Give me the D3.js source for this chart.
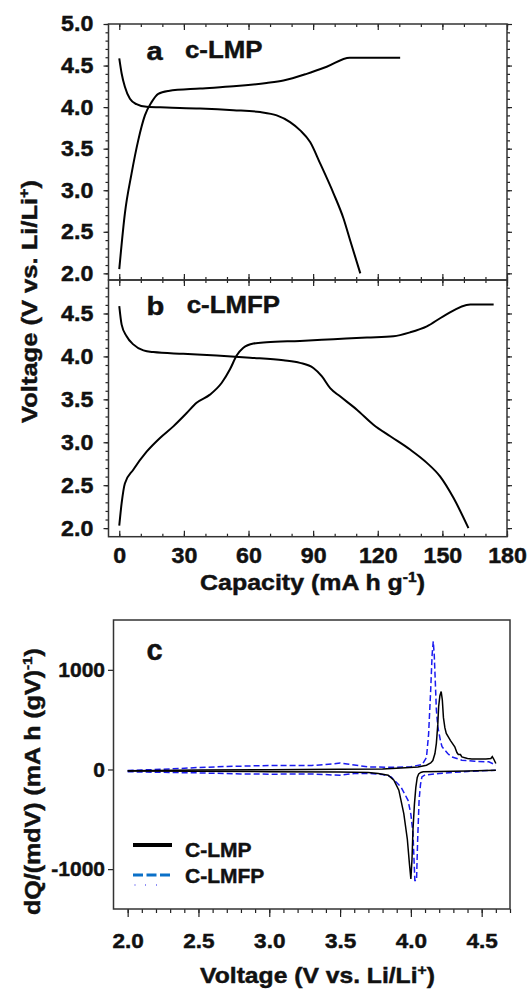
<!DOCTYPE html>
<meta charset="utf-8">
<style>
  body { margin: 0; background: #fff; }
  svg { display: block; }
  text { font-family: "Liberation Sans", Arial, sans-serif; font-weight: bold; fill: #111; stroke: #111; stroke-width: 0.45px; }
</style>
<svg width="528" height="990"></svg>
<script src="https://cdn.jsdelivr.net/npm/d3@7"></script>
<script>

// ---- panel a : c-LMP charge / discharge ----
var aChargeCap = [0, 2.6, 5.7, 8.8, 11.9, 15.0, 18.1, 22.8, 37.5, 53, 68.4, 76.2, 87, 96.3, 107, 130.4];
var aChargeV   = [2.05, 2.72, 3.20, 3.60, 3.90, 4.06, 4.16, 4.195, 4.224, 4.25, 4.29, 4.32, 4.40, 4.485, 4.594, 4.594];
var aDischCap = [0, 1.1, 2.6, 4.95, 8, 12.7, 22, 37.5, 53, 65.4, 73.1, 79.3, 84, 88.6, 93.3, 99.5, 104.1, 107.2, 111.9];
var aDischV   = [4.586, 4.405, 4.244, 4.10, 4.035, 4.003, 3.995, 3.983, 3.963, 3.94, 3.90, 3.82, 3.72, 3.58, 3.32, 2.96, 2.66, 2.395, 2.0];

// ---- panel b : c-LMFP ----
var bChargeCap = [0, 1.1, 2.6, 6.5, 12.7, 18.9, 25.1, 31.3, 35.9, 42.1, 47.5, 51.4, 54.5, 57.6, 62.3, 68.4, 83.9, 99.5, 115, 127.3, 135, 142.8, 150.6, 163, 173.8];
var bChargeV   = [2.03, 2.29, 2.52, 2.68, 2.89, 3.05, 3.185, 3.34, 3.46, 3.555, 3.69, 3.85, 4.01, 4.10, 4.15, 4.165, 4.18, 4.20, 4.22, 4.235, 4.28, 4.35, 4.47, 4.605, 4.605];
var bDischCap = [0, 1.1, 3.4, 6.5, 11.2, 15.8, 29.7, 45.2, 60.7, 76.2, 83.9, 90.1, 94, 97.9, 102.5, 110.3, 118, 125.8, 135, 142.8, 149, 155.2, 162.1];
var bDischV   = [4.585, 4.37, 4.235, 4.14, 4.07, 4.05, 4.03, 4.01, 3.985, 3.955, 3.925, 3.865, 3.77, 3.63, 3.535, 3.38, 3.205, 3.07, 2.915, 2.76, 2.60, 2.35, 2.0];

// ---- panel c : dQ/dV ----
var lmpUpV  = [2.0, 2.2, 2.5, 3.0, 3.5, 3.8, 3.93, 4.05, 4.11, 4.14, 4.155, 4.17, 4.18, 4.19, 4.196, 4.205, 4.214, 4.222, 4.23, 4.24, 4.25, 4.28, 4.31, 4.325, 4.335, 4.35, 4.36, 4.40, 4.43, 4.53, 4.565, 4.575, 4.585, 4.6];
var lmpUpQ  = [-12, -10, -6, -2, 2, 6, 16, 25, 43, 65, 90, 160, 262, 450, 630, 740, 782, 700, 520, 420, 362, 290, 228, 170, 150, 150, 126, 110, 106, 106, 110, 130, 105, 60];
var lmpDnV  = [2.0, 2.5, 3.0, 3.5, 3.7, 3.77, 3.84, 3.88, 3.915, 3.95, 3.975, 3.99, 4.0, 4.008, 4.015, 4.025, 4.035, 4.045, 4.055, 4.07, 4.087, 4.2, 4.4, 4.6];
var lmpDnQ  = [-15, -18, -22, -25, -30, -40, -57, -107, -208, -443, -700, -950, -1098, -900, -600, -350, -180, -80, -45, -30, -23, -20, -14, -7];
var lmfpUpV = [2.0, 2.1, 2.3, 2.5, 2.7, 3.0, 3.3, 3.45, 3.5, 3.55, 3.7, 3.9, 4.0, 4.08, 4.11, 4.125, 4.14, 4.15, 4.158, 4.165, 4.172, 4.18, 4.19, 4.21, 4.22, 4.26, 4.29, 4.36, 4.45, 4.55, 4.6];
var lmfpUpQ = [-10, -5, 5, 20, 30, 40, 40, 55, 65, 55, 25, 22, 28, 50, 120, 350, 800, 1150, 1285, 1150, 900, 600, 430, 280, 228, 160, 126, 93, 82, 77, 45];
var lmfpDnV = [2.0, 2.3, 2.5, 2.8, 3.0, 3.3, 3.45, 3.5, 3.6, 3.7, 3.8, 3.86, 3.93, 3.98, 4.0, 4.015, 4.028, 4.04, 4.048, 4.058, 4.068, 4.078, 4.1, 4.2, 4.4, 4.6];
var lmfpDnQ = [-23, -30, -34, -45, -47, -45, -55, -57, -40, -40, -50, -74, -175, -309, -450, -644, -1114, -1114, -700, -309, -150, -74, -55, -40, -20, -7];

var legendNames = ["C-LMP", "C-LMFP"];

var svg = d3.select("svg");

// scales
var x = d3.scaleLinear().domain([-5, 180]).range([108.5, 507]);
var yA = d3.scaleLinear().domain([1.92, 5.0]).range([280, 24]);
var yB = d3.scaleLinear().domain([1.9, 4.89]).range([536.7, 280]);
var xC = d3.scaleLinear().domain([1.9, 4.7]).range([113.5, 510]);
var yC = d3.scaleLinear().domain([-1400, 1500]).range([909, 620]);

function noDomain(g) { g.select(".domain").remove(); g.selectAll("line").attr("stroke", "#222").attr("stroke-width", 1.2); }
function noText(g) { g.selectAll("text").remove(); }
function tickText(g, size, sx) {
  g.selectAll("text").attr("font-size", size).attr("font-weight", "bold")
    .attr("font-family", "Liberation Sans, Arial, sans-serif").attr("fill", "#111")
    .attr("transform", "scale(" + sx + ",1)");
}
// place a label, stretch it along its own direction to a target length
function label(tr, size, str, len) {
  var t = svg.append("text").attr("font-size", size).html(str);
  if (len) {
    t.attr("text-anchor", "middle");
    var n = t.node().getComputedTextLength();
    t.attr("transform", tr + " scale(" + (len / n) + ",1)");
  } else {
    t.attr("transform", tr);
  }
  return t;
}

var xMajor = d3.range(0, 181, 30), xMinor = d3.range(0, 181, 10);

function frameAB(y, yMaj, yMin, topY, botY, labels) {
  svg.append("g").attr("transform", "translate(0," + botY + ")")
    .call(d3.axisBottom(x).tickValues(xMinor).tickSize(-3)).call(noDomain).call(noText);
  var gx = svg.append("g").attr("transform", "translate(0," + botY + ")")
    .call(d3.axisBottom(x).tickValues(xMajor).tickSize(-6).tickPadding(11.5)).call(noDomain);
  if (labels) gx.call(tickText, 21.5, 1.08);
  else gx.call(noText);
  svg.append("g").attr("transform", "translate(0," + topY + ")")
    .call(d3.axisTop(x).tickValues(xMinor).tickSize(-3)).call(noDomain).call(noText);
  svg.append("g").attr("transform", "translate(0," + topY + ")")
    .call(d3.axisTop(x).tickValues(xMajor).tickSize(-6)).call(noDomain).call(noText);
  svg.append("g").attr("transform", "translate(108.5,0)")
    .call(d3.axisLeft(y).tickValues(yMin).tickSize(3)).call(noDomain).call(noText);
  svg.append("g").attr("transform", "translate(108.5,0)")
    .call(d3.axisLeft(y).tickValues(yMaj).tickSize(5).tickPadding(9).tickFormat(d3.format(".1f")))
    .call(noDomain).call(tickText, 21.5, 1.08);
  svg.append("g").attr("transform", "translate(507,0)")
    .call(d3.axisRight(y).tickValues(yMin).tickSize(3)).call(noDomain).call(noText);
  svg.append("g").attr("transform", "translate(507,0)")
    .call(d3.axisRight(y).tickValues(yMaj).tickSize(5)).call(noDomain).call(noText);
  svg.append("rect").attr("x", 108.5).attr("y", topY).attr("width", 507 - 108.5).attr("height", botY - topY)
    .attr("fill", "none").attr("stroke", "#333").attr("stroke-width", 1.5);
}

frameAB(yA, d3.range(2.0, 5.01, 0.5), d3.range(2.0, 5.01, 0.1), 24, 280, false);
frameAB(yB, d3.range(2.0, 4.51, 0.5), d3.range(2.0, 4.81, 0.1), 280, 536.7, true);

function curve(xs, ys, sx, sy) {
  return d3.line().x(function(d, i) { return sx(xs[i]); }).y(function(d, i) { return sy(ys[i]); })
    .curve(d3.curveMonotoneX)(xs);
}
[[aChargeCap, aChargeV, yA], [aDischCap, aDischV, yA], [bChargeCap, bChargeV, yB], [bDischCap, bDischV, yB]]
  .forEach(function(s) {
    svg.append("path").attr("d", curve(s[0], s[1], x, s[2]))
      .attr("fill", "none").attr("stroke", "#000").attr("stroke-width", 2);
  });

// panel labels a / b
label("translate(146.5,60) scale(1.1,1)", 26.5, "a");
label("translate(185,58.3) scale(1.1,1)", 23.5, "c-LMP");
label("translate(146.5,315) scale(1.1,1)", 26.5, "b");
label("translate(186.7,313.3) scale(1.1,1)", 23.5, "c-LMFP");

// axis titles a/b
label("translate(36.7,301.5) rotate(-90)", 22.5,
  "Voltage (V vs. Li/Li<tspan dy='-8' font-size='14'>+</tspan><tspan dy='8'>)</tspan>", 243);
label("translate(312.5,589.5)", 22.5,
  "Capacity (mA h g<tspan dy='-8' font-size='14'>-1</tspan><tspan dy='8'>)</tspan>", 225);

// ---- panel c ----
svg.append("g").attr("transform", "translate(0,909)")
  .call(d3.axisBottom(xC).tickValues(d3.range(2.0, 4.71, 0.1)).tickSize(4)).call(noDomain).call(noText);
svg.append("g").attr("transform", "translate(0,909)")
  .call(d3.axisBottom(xC).tickValues(d3.range(2.0, 4.51, 0.5)).tickSize(8).tickPadding(16).tickFormat(d3.format(".1f")))
  .call(noDomain).call(tickText, 20.5, 1.1);
svg.append("g").attr("transform", "translate(113.5,0)")
  .call(d3.axisLeft(yC).tickValues([-1000, 0, 1000]).tickSize(5.5).tickPadding(3).tickFormat(function(d) { return String(d); }))
  .call(noDomain).call(tickText, 21, 1);
svg.append("rect").attr("x", 113.5).attr("y", 620).attr("width", 510 - 113.5).attr("height", 909 - 620)
  .attr("fill", "none").attr("stroke", "#333").attr("stroke-width", 1.5);

function lin(xs, ys) {
  return d3.line().x(function(d, i) { return xC(xs[i]); }).y(function(d, i) { return yC(ys[i]); })(xs);
}
[[lmfpUpV, lmfpUpQ], [lmfpDnV, lmfpDnQ]].forEach(function(s) {
  svg.append("path").attr("d", lin(s[0], s[1])).attr("fill", "none").attr("stroke", "#1c1cf0")
    .attr("stroke-width", 1.5).attr("stroke-dasharray", "6,3");
});
[[lmpUpV, lmpUpQ], [lmpDnV, lmpDnQ]].forEach(function(s) {
  svg.append("path").attr("d", lin(s[0], s[1])).attr("fill", "none").attr("stroke", "#000").attr("stroke-width", 1.5);
});

label("translate(146.5,660)", 29, "c");

// legend
svg.append("line").attr("x1", 133).attr("x2", 172).attr("y1", 845).attr("y2", 845)
  .attr("stroke", "#000").attr("stroke-width", 4);
svg.append("line").attr("x1", 133).attr("x2", 172).attr("y1", 875).attr("y2", 875)
  .attr("stroke", "#0a70c8").attr("stroke-width", 3).attr("stroke-dasharray", "10,3.5");
[134.5, 145, 156].forEach(function(px) {
  svg.append("rect").attr("x", px).attr("y", 884.5).attr("width", 1).attr("height", 1).attr("fill", "#1c1cf0");
});
label("translate(185,856.5)", 21, legendNames[0]);
label("translate(185,883)", 21, legendNames[1]);

// axis titles c
label("translate(39.5,781.5) rotate(-90)", 22,
  "dQ/(mdV) (mA h (gV)<tspan dy='-8' font-size='13.5'>-1</tspan><tspan dy='8'>)</tspan>", 267);
label("translate(317.5,983)", 22,
  "Voltage (V vs. Li/Li<tspan dy='-8' font-size='14'>+</tspan><tspan dy='8'>)</tspan>", 235);

</script>
